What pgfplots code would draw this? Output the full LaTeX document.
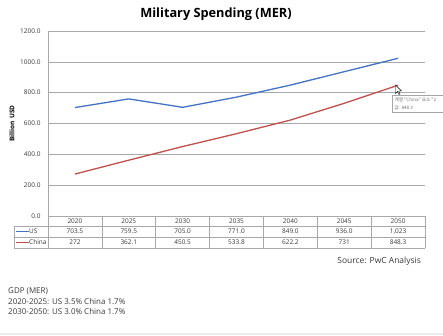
\documentclass[border=0pt]{standalone}
\usepackage{fontspec}
\setmainfont{Open Sans}
\newfontfamily\krfont{Noto Sans CJK KR}
\usepackage{pgfplots}
\usepackage{pgfplotstable}
\pgfplotsset{compat=1.18}
\definecolor{usblue}{HTML}{4472C4}
\definecolor{cnred}{HTML}{C0504D}
\definecolor{gridc}{HTML}{A9A9A9}
\definecolor{txt}{HTML}{3A3A3A}
\pgfplotstableread{
idx year us china
0 2020 703.5 272
1 2025 759.5 362.1
2 2030 705.0 450.5
3 2035 771.0 533.8
4 2040 849.0 622.2
5 2045 936.0 731
6 2050 1023 848.3
}\datatable
\begin{document}
\begin{tikzpicture}[x=1bp,y=1bp]
\useasboundingbox[fill=white] (0,0) rectangle (443,335);
\fill[gray!15] (0,0) rectangle (443,2.5);
\node[font=\bfseries\fontsize{12.8}{14}\selectfont, text=black] at (216,321) {Military Spending (MER)};
\begin{axis}[at={(48bp,119bp)}, anchor=south west, scale only axis,
  width=377bp, height=185bp,
  xmin=-0.5, xmax=6.5, ymin=0, ymax=1200,
  ytick={0,200,...,1200}, xtick=\empty,
  axis x line=none, axis y line=left,
  axis line style={gridc,-, line width=0.6bp},
  ymajorgrids, grid style={gridc, line width=0.6bp},
  major tick length=0,
  yticklabel style={font=\fontsize{6.5}{7}\selectfont, text=txt, xshift=-4bp},
  /pgf/number format/fixed, /pgf/number format/fixed zerofill,
  /pgf/number format/precision=1, /pgf/number format/1000 sep={},
  /pgf/number format/assume math mode=true,
  clip=false]
\addplot[usblue, line width=1.3bp, mark=none] table[x=idx, y=us]{\datatable};
\addplot[cnred, line width=1.3bp, mark=none] table[x=idx, y=china]{\datatable};
\end{axis}
\node[rotate=90, font=\bfseries\fontsize{6.5}{7}\selectfont, text=black] at (12,211.5) {Billion\hspace{0.4em}USD};
% data table
\begin{scope}[gridc, line width=0.6bp]
\draw (48,119) -- (425,119);
\draw (14,109) -- (425,109);
\draw (14,98) -- (425,98);
\draw (14,87) -- (425,87);
\draw (14,109) -- (14,87);
\draw (48,119) -- (48,87);
\foreach \k in {1,...,7} { \draw ({48+53.857*\k},119) -- ({48+53.857*\k},87); }
\end{scope}
\foreach \yr/\u/\c [count=\i from 0] in {2020/703.5/272, 2025/759.5/362.1, 2030/705.0/450.5, 2035/771.0/533.8, 2040/849.0/622.2, 2045/936.0/731, 2050/{1,023}/848.3} {
  \node[font=\fontsize{6.5}{7}\selectfont, text=txt] at ({74.93+53.857*\i},114) {\yr};
  \node[font=\fontsize{6.5}{7}\selectfont, text=txt] at ({74.93+53.857*\i},103.5) {\u};
  \node[font=\fontsize{6.5}{7}\selectfont, text=txt] at ({74.93+53.857*\i},92.5) {\c};
}
\draw[usblue, line width=1bp] (16,103.5) -- (28.5,103.5);
\node[anchor=west, inner sep=0, font=\fontsize{6.5}{7}\selectfont, text=txt] at (29,103.5) {US};
\draw[cnred, line width=1bp] (16,92.5) -- (28.5,92.5);
\node[anchor=west, inner sep=0, font=\fontsize{6.5}{7}\selectfont, text=txt] at (29,92.5) {China};
% tooltip
\draw[gray!70, fill=white, line width=0.5bp] (392,240) rectangle (452,222.5);
\node[anchor=west, inner sep=0, font=\krfont\fontsize{4.6}{5}\selectfont, text=gray!90!black] at (394.5,235.5) {계열 "China" 요소 "2};
\node[anchor=west, inner sep=0, font=\krfont\fontsize{4.6}{5}\selectfont, text=gray!90!black] at (394.5,227.5) {값: 848.3};
\draw[black, fill=white, line width=0.4bp] (395.5,250) -- (395.5,241.5) -- (397.5,243.5) -- (399,240.5) -- (400,241) -- (398.7,244) -- (401.5,244) -- cycle;
% notes
\node[anchor=east, inner sep=0, font=\fontsize{8.5}{10}\selectfont, text=txt] at (421,74) {Source: PwC Analysis};
\node[anchor=west, inner sep=0, font=\fontsize{8}{10}\selectfont, text=txt] at (8,44) {GDP (MER)};
\node[anchor=west, inner sep=0, font=\fontsize{8}{10}\selectfont, text=txt] at (8,33.5) {2020-2025: US 3.5\% China 1.7\%};
\node[anchor=west, inner sep=0, font=\fontsize{8}{10}\selectfont, text=txt] at (8,23) {2030-2050: US 3.0\% China 1.7\%};
\end{tikzpicture}
\end{document}
